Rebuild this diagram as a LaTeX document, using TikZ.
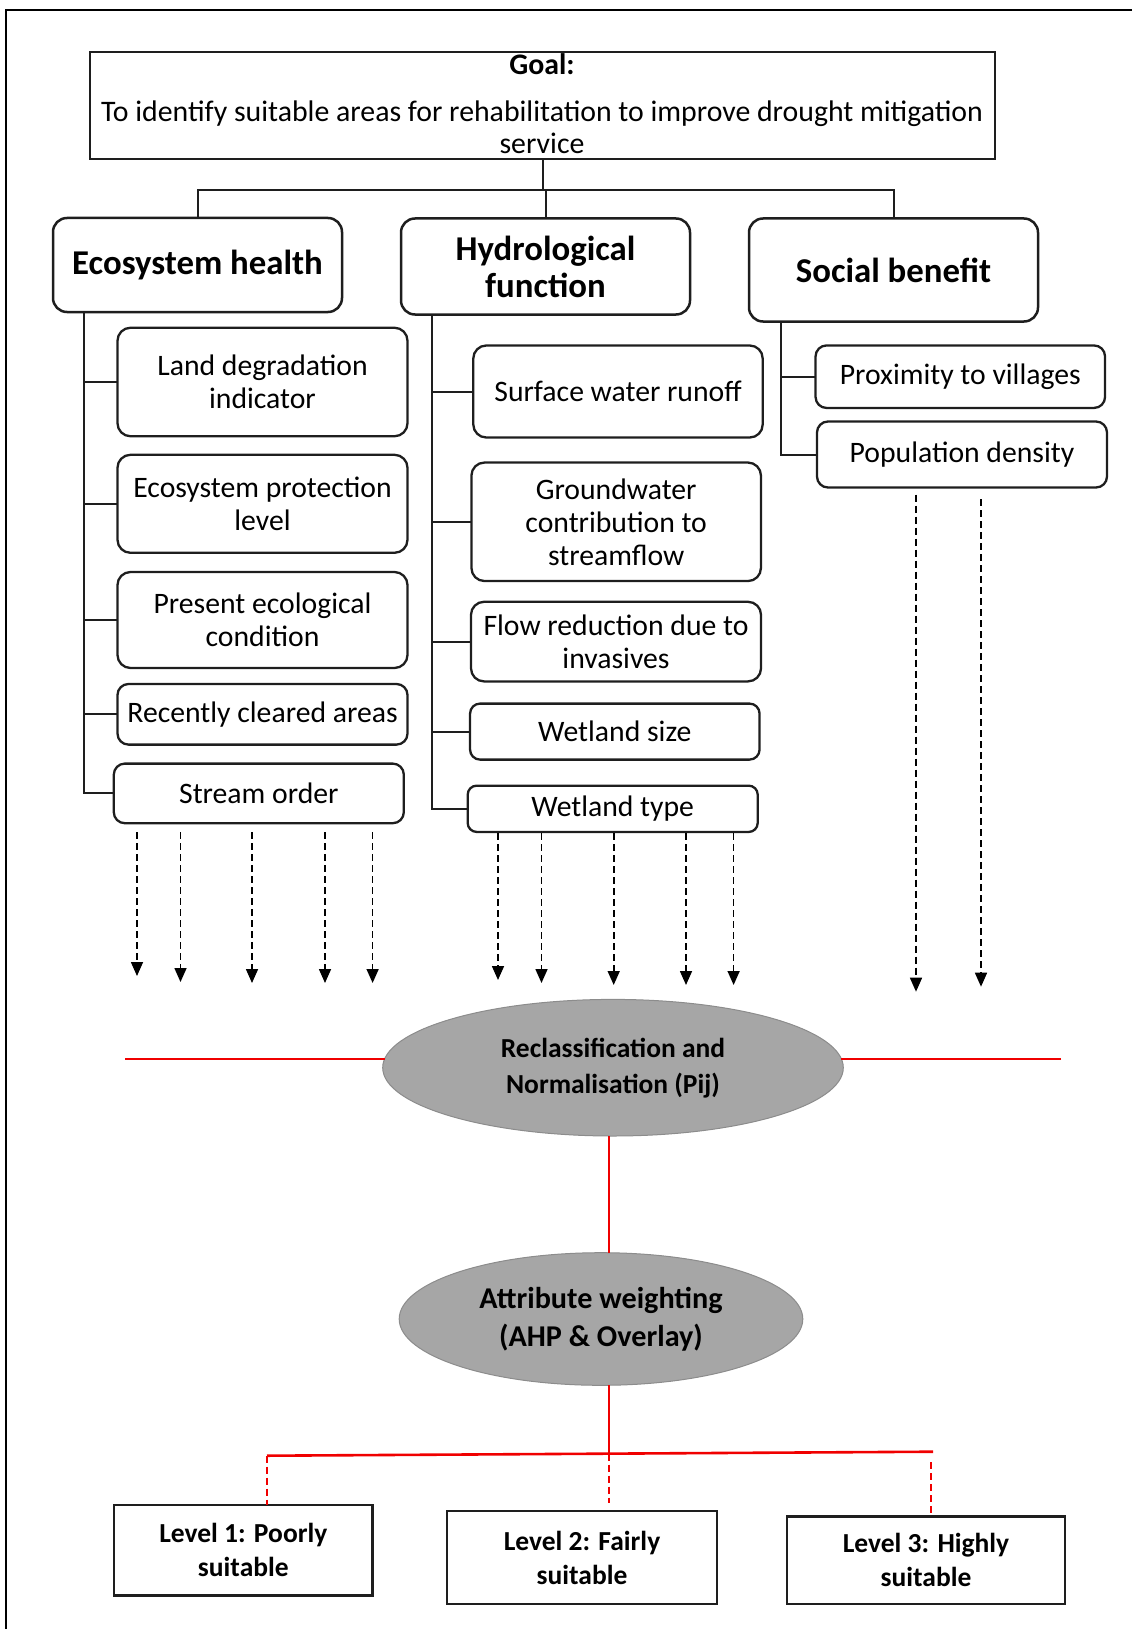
\documentclass[tikz,border=0pt]{standalone}
\usepackage{fontspec}
\setmainfont{Carlito}
\usetikzlibrary{shapes.geometric,arrows.meta}
\definecolor{ellfill}{RGB}{166,166,166}
\definecolor{elldraw}{RGB}{140,140,140}
\definecolor{lnc}{RGB}{30,30,30}
\definecolor{rd}{RGB}{240,0,0}
\tikzset{
 every node/.style={inner sep=0pt, outer sep=0pt, text=black},
 goalbox/.style={draw=lnc, line width=2.6pt, minimum width=905pt, minimum height=107pt},
 goaltxt/.style={anchor=base, font=\fontsize{29.8}{32}\selectfont},
 headbox/.style={draw=lnc, line width=2.5pt, rounded corners=14pt, align=center, font=\fontsize{34.8}{37}\selectfont\bfseries},
 subbox/.style={draw=lnc, line width=2.3pt, rounded corners=13pt, align=center, font=\fontsize{29.7}{33}\selectfont},
 lvlbox/.style={draw=lnc, line width=2.5pt, align=center, font=\fontsize{27.5}{34}\selectfont\bfseries},
 ellbox/.style={ellipse, fill=ellfill, draw=elldraw, line width=1pt, align=center},
 conn/.style={draw=lnc, line width=2pt},
 darr/.style={draw=black, line width=1.6pt, dash pattern=on 7pt off 4pt, -{Triangle[length=14pt,width=12pt]}},
 redln/.style={draw=rd, line width=1.8pt},
 reddash/.style={draw=rd, line width=1.6pt, dash pattern=on 7pt off 4pt},
}
\begin{document}
\begin{tikzpicture}[x=1pt,y=-1pt]
\useasboundingbox (0,0) rectangle (1132,1629);
% frame
\draw[line width=2pt, black] (1132,10) -| (6,1629);

% goal
\node[goalbox] (goal) at (542.5,105.5) {};
\node[goaltxt] (goalt) at (542,74.5) {\bfseries Goal:};
\node[goaltxt] (goall1) at (542,121.5) {To identify suitable areas for rehabilitation to improve drought mitigation};
\node[goaltxt] (goall2) at (542,153.5) {service};

% headers
\node[headbox, minimum width=289pt, minimum height=94pt] (eh) at (197.5,265) {Ecosystem health};
\node[headbox, minimum width=289pt, minimum height=96pt] (hf) at (545.5,266.5) {Hydrological\\function};
\node[headbox, minimum width=289pt, minimum height=103pt] (sb) at (893.5,270) {Social benefit};

\coordinate (bus) at (0,190);
\draw[conn] (goal.south) -- (goal.south |- bus);
\draw[conn] (eh.north) |- (sb.north |- bus) -- (sb.north);
\draw[conn] (hf.north) -- (hf.north |- bus);

% ecosystem health items
\node[subbox, minimum width=290pt, minimum height=108.5pt] (ld) at (262.5,382) {Land degradation\\indicator};
\node[subbox, minimum width=290pt, minimum height=98pt] (ep) at (262.5,503.8) {Ecosystem protection\\level};
\node[subbox, minimum width=290pt, minimum height=96pt] (pe) at (262.5,620) {Present ecological\\condition};
\node[subbox, minimum width=290pt, minimum height=60.6pt, rounded corners=11pt] (rc) at (262.5,714.3) {Recently cleared areas};
\node[subbox, minimum width=290pt, minimum height=59.6pt, rounded corners=11pt] (so) at (258.8,793.4) {Stream order};

\coordinate (ehs) at ([xshift=31pt]eh.south west);
\draw[conn] (ehs) |- (so.west);
\foreach \n in {ld,ep,pe,rc} \draw[conn] (\n.west) -- (\n.west -| ehs);

% hydrological function items
\node[subbox, minimum width=289.4pt, minimum height=92pt] (sw) at (618,391.5) {Surface water runoff};
\node[subbox, minimum width=289.5pt, minimum height=118.5pt] (gw) at (616.2,521.8) {Groundwater\\contribution to\\streamflow};
\node[subbox, minimum width=290pt, minimum height=79.6pt] (fr) at (616,641.6) {Flow reduction due to\\invasives};
\node[subbox, minimum width=289.5pt, minimum height=56pt, rounded corners=10pt] (ws) at (614.8,731.6) {Wetland size};
\node[subbox, minimum width=290pt, minimum height=46.3pt, rounded corners=9pt] (wt) at (612.7,808.8) {Wetland type};

\coordinate (hfs) at ([xshift=31pt]hf.south west);
\draw[conn] (hfs) |- (wt.west);
\foreach \n in {sw,gw,fr,ws} \draw[conn] (\n.west) -- (\n.west -| hfs);

% social benefit items
\node[subbox, minimum width=289.5pt, minimum height=62.5pt, rounded corners=11pt] (pv) at (960.3,376.7) {Proximity to villages};
\node[subbox, minimum width=290pt, minimum height=66pt, rounded corners=11pt] (pd) at (962,454.5) {Population density};

\coordinate (sbs) at ([xshift=31.5pt]sb.south west);
\draw[conn] (sbs) |- (pd.west);
\draw[conn] (pv.west) -- (pv.west -| sbs);

% dashed arrows
\foreach \x/\t [count=\i] in {137/976,180.5/982,252/983,325/983,372.6/983}{
  \coordinate (ea\i) at (\x,\t);
  \draw[darr, shorten <=9pt] (so.south -| ea\i) -- (ea\i);
}
\foreach \x/\t [count=\i] in {498/980,541.5/983,613.7/985,686/985,733.6/985}{
  \coordinate (ha\i) at (\x,\t);
  \draw[darr, shorten <=1.5pt] (wt.south -| ha\i) -- (ha\i);
}
\coordinate (sa1) at (916,991.7);
\coordinate (sa2) at (981,986.7);
\draw[darr, shorten <=7pt] (pd.south -| sa1) -- (sa1);
\draw[darr, shorten <=11.5pt] (pd.south -| sa2) -- (sa2);

% ellipses
\node[ellbox, minimum width=460.6pt, minimum height=136.6pt, font=\fontsize{27.5}{36}\selectfont\bfseries] (ell1) at (613,1067.7) {Reclassification and\\Normalisation (Pij)};
\node[ellbox, minimum width=403.6pt, minimum height=132.6pt, font=\fontsize{30.2}{38}\selectfont\bfseries] (ell2) at (601,1319) {Attribute weighting\\(AHP \& Overlay)};

% red lines
\coordinate (rl) at (125,1059);
\coordinate (rr) at (1061,1059);
\draw[redln] (rl) -- ([xshift=2pt]rl -| ell1.west);
\draw[redln] (rr) -- ([xshift=-2pt]rr -| ell1.east);
\coordinate (vx) at (609,0);
\draw[redln] (ell1.south -| vx) -- (ell2.north -| vx);
\coordinate (hb) at (609,1453.5);
\draw[redln] (ell2.south -| vx) -- (hb);
\coordinate (hl) at (267,1455.7);
\coordinate (hr) at (933,1451.7);
\draw[redln, line width=2.6pt] (hl) -- (hr);

% level boxes
\node[lvlbox, minimum width=258.6pt, minimum height=90.7pt] (l1) at (243.3,1550.3) {Level 1: Poorly\\suitable};
\node[lvlbox, minimum width=270pt, minimum height=93pt] (l2) at (582,1557.5) {Level 2: Fairly\\suitable};
\node[lvlbox, minimum width=278pt, minimum height=87.3pt] (l3) at (926,1560.3) {Level 3: Highly\\suitable};

\draw[reddash] (hl) -- (hl |- l1.north);
\coordinate (m2) at (609,1503);
\draw[reddash] (hb) -- (m2);
\coordinate (r3a) at (931,1462);
\coordinate (r3b) at (931,1513);
\draw[reddash] (r3a) -- (r3b);
\end{tikzpicture}
\end{document}
